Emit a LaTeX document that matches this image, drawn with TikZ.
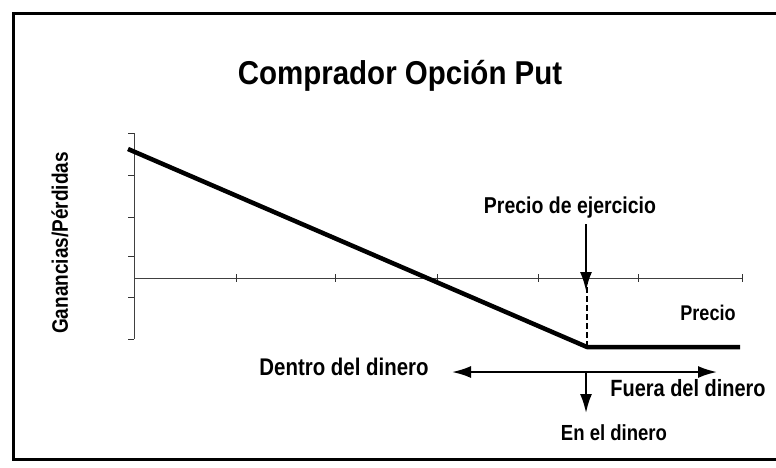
\documentclass[tikz,border=0pt]{standalone}
\usepackage{fontspec}
\setmainfont{Liberation Sans}
\usetikzlibrary{arrows.meta}
\newcommand\tallT[1]{\scalebox{0.95}[1.12]{#1}}
\newcommand\tallTitle[1]{\scalebox{1.0}[1.12]{#1}}
\begin{document}
\begin{tikzpicture}[x=1pt,y=-1pt,
  lbl/.style={font=\bfseries\fontsize{19}{22}\selectfont, inner sep=0pt},
  axisline/.style={line width=0.9pt, black!75},
  tick/.style={line width=0.8pt, black!80},
  payoff/.style={line width=4.5pt, line join=round},
  bigarrow/.style={line width=2pt, -{Latex[length=19pt,width=12pt]}},
  frame/.style={line width=3pt}]
\useasboundingbox (0,0) rectangle (776,467);
% frame (open on the right)
\draw[frame] (776,13) -- (13,13) -- (13,459) -- (776,459);
% title
\node[inner sep=0pt, font=\bfseries\fontsize{29.5}{34}\selectfont] (title) at (400,76) {\tallTitle{Comprador Opción Put}};
% y label
\node[lbl, rotate=90, font=\bfseries\fontsize{20}{24}\selectfont] (ylab) at (60,243) {\tallT{Ganancias/Pérdidas}};
% axes
\coordinate (yT) at (134,133);
\coordinate (yB) at (134,339);
\coordinate (O) at (134,278);
\coordinate (xE) at (742,278);
\draw[axisline] (yT) -- (yB);
\draw[axisline] (O) -- (xE);
\foreach \y in {133,175,217,256,297,339} \draw[tick] (128,\y) -- (134,\y);
\foreach \x in {236,335,437,538,638,742} \draw[tick] (\x,274) -- (\x,282);
% payoff
\coordinate (P0) at (128,149);
\coordinate (K) at (587,347);
\coordinate (P1) at (740,347);
\coordinate (KA) at (587,278);
\draw[payoff] (P0) -- (K) -- (P1);
\draw[line width=1.2pt, dashed, dash pattern=on 6pt off 3pt] (KA) -- (K);
% strike label and arrow
\node[lbl, font=\bfseries\fontsize{20.5}{24}\selectfont] (strike) at (570,208) {\tallT{Precio de ejercicio}};
\coordinate (strikeTip) at (586,291);
\draw[bigarrow] (586,224) -- (strikeTip);
\node[lbl, font=\bfseries\fontsize{19}{22}\selectfont] (precio) at (708,313) {\tallT{Precio}};
% moneyness
\node[lbl, font=\bfseries\fontsize{21.5}{24}\selectfont] (dentro) at (344,367) {\tallT{Dentro del dinero}};
\node[lbl, font=\bfseries\fontsize{21}{24}\selectfont] (fuera) at (688,388) {\tallT{Fuera del dinero}};
\node[lbl, font=\bfseries\fontsize{19.5}{22}\selectfont] (en) at (614,433) {\tallT{En el dinero}};
\coordinate (L) at (452,372);
\coordinate (R) at (717,372);
\coordinate (M) at (586,372);
\coordinate (D) at (586,413);
\draw[bigarrow, {Latex[length=19pt,width=12pt]}-{Latex[length=19pt,width=12pt]}] (L) -- (R);
\draw[bigarrow] (M) -- (D);
\end{tikzpicture}
\end{document}
